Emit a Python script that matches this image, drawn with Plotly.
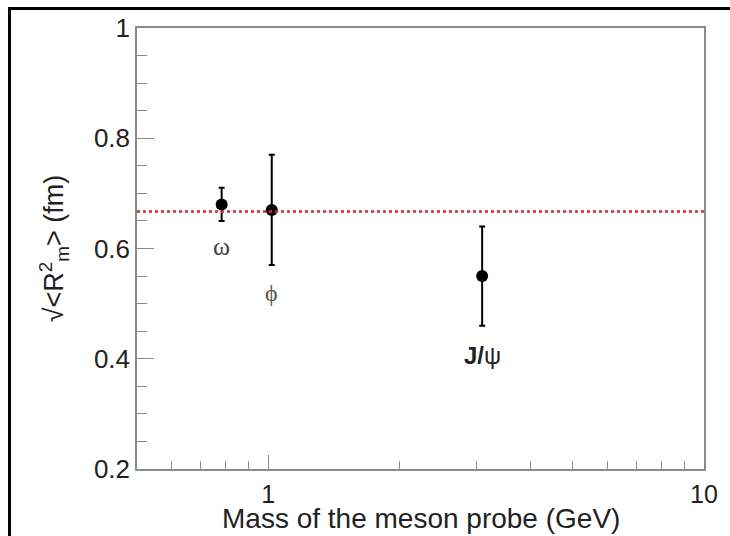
import math
import plotly.graph_objects as go

# ---- data ----
mesons = ["ω", "ϕ", "J/ψ"]
meson_mass = [0.782, 1.019, 3.097]          # GeV
radius = [0.68, 0.67, 0.55]                 # sqrt(<R_m^2>) (fm)
radius_err = [0.03, 0.10, 0.09]
label_y = [0.603, 0.519, 0.405]             # label positions under each point
fit_value = 0.667                           # red dotted average line
x_ticks = [1, 10]
x_minor = [0.6, 0.7, 0.8, 0.9, 2, 3, 4, 5, 6, 7, 8, 9]
y_ticks = [0.2, 0.4, 0.6, 0.8, 1.0]
y_ticktext = ["0.2", "0.4", "0.6", "0.8", "1"]

AX = "#8a8a8a"
FONT = "Liberation Sans"

fig = go.Figure()

fig.add_trace(go.Scatter(
    x=meson_mass, y=radius, mode="markers",
    marker=dict(color="black", size=12, symbol="circle"),
    error_y=dict(type="data", array=radius_err, visible=True,
                 color="black", thickness=2, width=3),
    showlegend=False, cliponaxis=False,
))

# dotted fit line across the frame
fig.add_shape(type="line", xref="paper", x0=0, x1=1, yref="y",
              y0=fit_value, y1=fit_value,
              line=dict(color="#e3262d", width=2.5, dash="dot"))

# labels
label_fonts = [
    dict(family="Liberation Serif", size=26, color="#444444"),
    dict(family="Liberation Serif", size=24, color="#555555"),
    dict(family=FONT, size=24, color="#222222"),
]
label_text = ["ω", "ϕ", "<b>J/</b>ψ"]
for m, ly, t, f in zip(meson_mass, label_y, label_text, label_fonts):
    fig.add_annotation(x=math.log10(m), y=ly, text=t, showarrow=False,
                       font=f, xanchor="center", yanchor="middle")

# x-axis title placed as annotation below the tick labels
fig.add_annotation(xref="paper", yref="paper", x=0.5, y=-0.113,
                   text="Mass of the meson probe (GeV)", showarrow=False,
                   xanchor="center", yanchor="middle",
                   font=dict(family=FONT, size=28, color="#222222"))

# outer black frame (top and left visible, rest cropped)
fig.add_shape(type="rect", xref="paper", yref="paper",
              x0=-0.2249, x1=1.07, y0=-0.18, y1=1.0442,
              line=dict(color="black", width=3), layer="above")

fig.update_xaxes(
    type="log", range=[math.log10(0.5), 1],
    tickmode="array", tickvals=x_ticks, ticktext=["1", "10"],
    ticks="inside", ticklen=14, tickwidth=1.2, tickcolor=AX,
    minor=dict(tickmode="array", tickvals=x_minor, ticks="inside",
               ticklen=8, tickwidth=1.2, tickcolor=AX),
    showline=True, linecolor=AX, linewidth=1.5, mirror=True,
    showgrid=False, zeroline=False, ticklabelstandoff=2,
    tickfont=dict(family=FONT, size=25, color="#222222"),
)
fig.update_yaxes(
    range=[0.2, 1.0],
    tickmode="array", tickvals=y_ticks, ticktext=y_ticktext,
    ticks="inside", ticklen=17, tickwidth=1.2, tickcolor=AX,
    minor=dict(dtick=0.05, tick0=0.2, ticks="inside", ticklen=10,
               tickwidth=1.2, tickcolor=AX),
    showline=True, linecolor=AX, linewidth=1.5, mirror=True,
    showgrid=False, zeroline=False,
    tickfont=dict(family=FONT, size=26, color="#222222"),
    title=dict(text="√&lt;R<sup>2</sup><sub>m</sub>&gt; (fm)",
               font=dict(family=FONT, size=27, color="#222222"),
               standoff=22),
)

fig.update_layout(
    width=730, height=536,
    margin=dict(l=137, r=26, t=28, b=67, pad=0),
    paper_bgcolor="white", plot_bgcolor="white",
    font=dict(family=FONT),
)

fig.write_html("out.html", config={"displayModeBar": False},
               post_script="document.body.style.margin='0';document.body.style.overflow='hidden';")
